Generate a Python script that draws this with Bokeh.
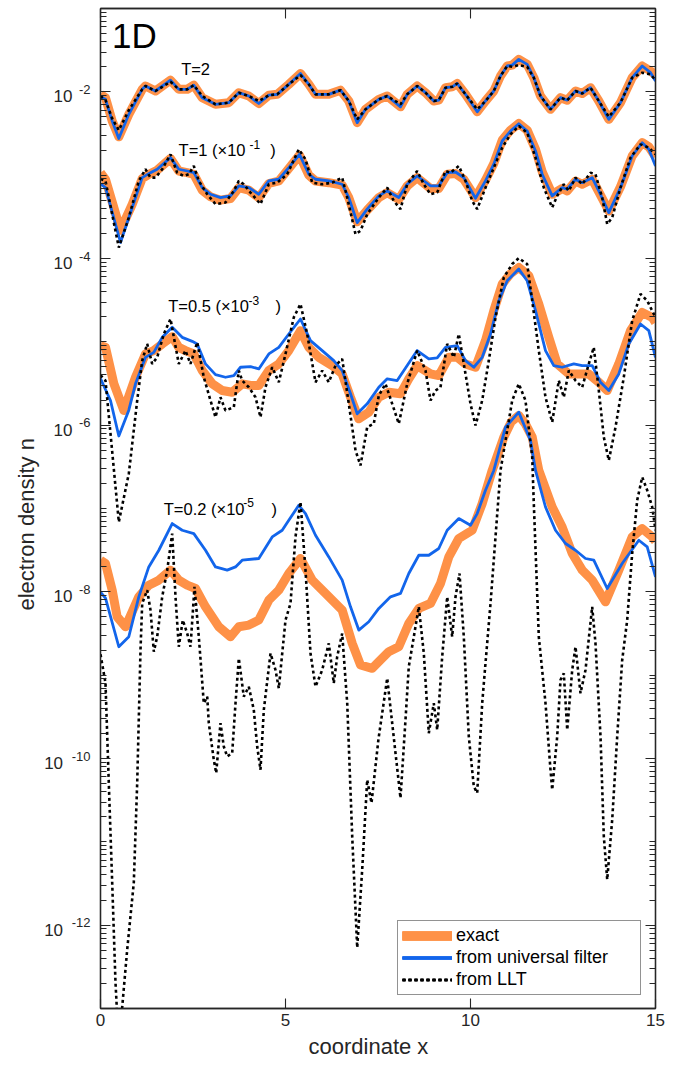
from bokeh.plotting import figure
from bokeh.models import (Range1d, FixedTicker, LinearAxis, LogAxis, LogScale,
                          CustomJSTickFormatter, Label, Title)
from bokeh.embed import file_html
from bokeh.resources import INLINE

# ---------------- data (log10 of electron density) ----------------
# T = 2
x_t2 = [0.0, 0.135, 0.316, 0.495, 0.765, 1.127, 1.216, 1.486, 1.892, 2.116, 2.343, 2.522, 2.749, 3.108, 3.468,
        3.738, 4.008, 4.278, 4.549, 4.776, 5.089, 5.405, 5.630, 5.811, 6.170, 6.486, 6.711, 6.938, 7.162, 7.522,
        7.749, 8.108, 8.289, 8.559, 8.784, 9.008, 9.143, 9.324, 9.505, 9.641, 9.865, 10.181, 10.405, 10.630,
        10.811, 10.992, 11.127, 11.305, 11.532, 11.711, 11.892, 12.162, 12.432, 12.614, 12.838, 13.019, 13.243,
        13.468, 13.738, 14.054, 14.370, 14.641, 14.865, 15.0]
exact_t2 = [-2.03, -2.07, -2.35, -2.54, -2.27, -1.97, -1.93, -1.99, -1.86, -1.97, -1.97, -1.92, -2.07, -2.15, -2.13,
            -2.01, -2.05, -2.14, -2.04, -2.03, -1.91, -1.78, -1.91, -2.03, -2.03, -1.98, -2.11, -2.37, -2.21, -2.09,
            -2.05, -2.18, -2.03, -1.93, -2.01, -2.11, -2.10, -1.95, -1.94, -1.90, -2.03, -2.24, -2.11, -1.99,
            -1.81, -1.69, -1.68, -1.61, -1.67, -1.83, -2.05, -2.21, -2.07, -2.10, -1.99, -2.02, -1.95,
            -2.11, -2.33, -2.13, -1.83, -1.69, -1.75, -1.80]
univ_t2 = [-2.06, -2.09, -2.35, -2.56, -2.27, -1.97, -1.93, -1.99, -1.86, -1.97, -1.97, -1.92, -2.07, -2.15, -2.13,
           -2.01, -2.05, -2.14, -2.04, -2.03, -1.91, -1.78, -1.91, -2.03, -2.03, -1.98, -2.11, -2.37, -2.21, -2.09,
           -2.05, -2.18, -2.03, -1.93, -2.01, -2.11, -2.10, -1.95, -1.94, -1.90, -2.03, -2.24, -2.11, -1.99,
           -1.81, -1.69, -1.68, -1.61, -1.67, -1.83, -2.05, -2.21, -2.07, -2.10, -1.99, -2.02, -1.95,
           -2.11, -2.33, -2.13, -1.83, -1.69, -1.77, -1.87]
llt_t2 = [-2.05, -2.10, -2.32, -2.46, -2.22, -1.97, -1.93, -1.99, -1.88, -1.97, -1.97, -1.92, -2.05, -2.15, -2.13,
          -2.01, -2.05, -2.11, -2.04, -2.03, -1.91, -1.80, -1.91, -2.03, -2.03, -1.98, -2.11, -2.33, -2.21, -2.09,
          -2.05, -2.15, -2.03, -1.93, -2.01, -2.11, -2.10, -1.95, -1.94, -1.90, -2.03, -2.21, -2.11, -1.99,
          -1.81, -1.69, -1.70, -1.68, -1.70, -1.83, -2.05, -2.21, -2.07, -2.10, -1.99, -2.02, -1.95,
          -2.11, -2.30, -2.13, -1.83, -1.77, -1.79, -1.86]

# T = 1 (x 1e-1)
x_t1 = [0.0, 0.135, 0.541, 0.857, 1.127, 1.351, 1.532, 1.892, 2.116, 2.343, 2.522, 2.749, 2.973, 3.243, 3.514,
        3.738, 4.008, 4.278, 4.549, 4.819, 5.089, 5.378, 5.630, 5.811, 6.170, 6.532, 6.711, 6.938, 7.208, 7.522,
        7.749, 8.062, 8.289, 8.559, 8.919, 9.143, 9.370, 9.595, 9.819, 10.135, 10.405, 10.630, 10.857, 11.081,
        11.305, 11.532, 11.757, 11.938, 12.208, 12.478, 12.614, 12.838, 13.019, 13.289, 13.468, 13.738, 14.054,
        14.370, 14.641, 14.819, 15.0]
exact_t1 = [-2.97, -3.05, -3.66, -3.35, -3.04, -2.98, -2.94, -2.80, -2.95, -2.97, -2.99, -3.18, -3.26, -3.30, -3.28,
            -3.15, -3.18, -3.27, -3.10, -3.07, -2.92, -2.76, -3.00, -3.07, -3.09, -3.12, -3.27, -3.56, -3.42, -3.27,
            -3.21, -3.29, -3.13, -3.03, -3.16, -3.16, -2.99, -2.98, -3.05, -3.27, -3.06, -2.86, -2.58, -2.46,
            -2.38, -2.46, -2.69, -2.96, -3.23, -3.16, -3.19, -3.07, -3.11, -3.05, -3.20, -3.43, -3.14,
            -2.77, -2.61, -2.66, -2.78]
univ_t1 = [-3.105, -3.150, -3.808, -3.389, -3.030, -2.970, -2.929, -2.790, -2.929, -2.950, -2.970, -3.150, -3.229,
           -3.269, -3.249, -3.129, -3.150, -3.229, -3.069, -3.049, -2.910, -2.750, -2.989, -3.049, -3.069, -3.109,
           -3.269, -3.569, -3.408, -3.249, -3.189, -3.269, -3.109, -3.010, -3.129, -3.129, -2.970, -2.962, -3.030,
           -3.277, -3.069, -2.869, -2.590, -2.471, -2.383, -2.471, -2.710, -2.989, -3.249, -3.150, -3.169, -3.049,
           -3.090, -3.030, -3.189, -3.449, -3.150, -2.770, -2.611, -2.690, -2.890]
xl_t1 = [0.0, 0.135, 0.495, 0.765, 1.035, 1.216, 1.351, 1.486, 1.668, 1.892, 2.070, 2.251, 2.386, 2.522, 2.657,
         2.884, 3.108, 3.378, 3.603, 3.738, 3.873, 4.054, 4.324, 4.549, 4.776, 5.045, 5.359, 5.541, 5.722, 5.992,
         6.262, 6.532, 6.668, 6.892, 7.027, 7.208, 7.522, 7.749, 7.927, 8.108, 8.289, 8.559, 8.739, 8.919, 9.100,
         9.324, 9.459, 9.684, 9.865, 10.046, 10.181, 10.405, 10.630, 10.857, 11.081, 11.305, 11.532, 11.757,
         11.981, 12.208, 12.343, 12.522, 12.657, 12.838, 13.019, 13.243, 13.378, 13.559, 13.695, 13.830, 14.054,
         14.324, 14.595, 14.819, 15.0]
llt_t1 = [-3.045, -3.069, -3.868, -3.509, -3.069, -2.929, -3.030, -3.030, -2.929, -2.750, -2.970, -3.010, -2.989,
          -2.890, -3.069, -3.229, -3.348, -3.329, -3.189, -3.069, -3.109, -3.209, -3.348, -3.109, -3.090, -2.989,
          -2.690, -2.810, -3.090, -3.109, -3.090, -3.030, -3.269, -3.708, -3.668, -3.468, -3.269, -3.150, -3.309,
          -3.408, -3.109, -2.950, -3.109, -3.229, -3.209, -2.950, -2.970, -2.890, -3.069, -3.309, -3.408, -3.150,
          -2.910, -2.670, -2.510, -2.411, -2.491, -2.790, -3.150, -3.389, -3.249, -3.109, -3.189, -3.030, -3.109,
          -2.970, -2.989, -3.269, -3.588, -3.509, -3.150, -2.790, -2.630, -2.670, -2.750]

# T = 0.5 (x 1e-3)
xe_t05 = [0.0, 0.135, 0.360, 0.630, 0.946, 1.216, 1.441, 1.668, 1.938, 2.116, 2.297, 2.522, 2.749, 3.019, 3.289,
          3.559, 3.830, 4.100, 4.278, 4.549, 4.819, 5.089, 5.405, 5.630, 5.900, 6.262, 6.532, 6.757, 6.981, 7.251,
          7.522, 7.792, 8.108, 8.332, 8.559, 8.919, 9.143, 9.414, 9.641, 9.865, 10.135, 10.405, 10.630, 10.857,
          11.081, 11.305, 11.576, 11.846, 12.116, 12.343, 12.657, 12.927, 13.197, 13.468, 13.695, 14.008, 14.324,
          14.641, 14.911, 15.0]
exact_t05 = [-5.046, -5.066, -5.50, -5.824, -5.425, -5.145, -5.105, -5.025, -4.938, -5.066, -5.105, -5.145, -5.345,
             -5.504, -5.584, -5.605, -5.504, -5.525, -5.525, -5.345, -5.265, -5.105, -4.866, -5.066, -5.186, -5.285,
             -5.385, -5.665, -5.924, -5.844, -5.665, -5.605, -5.624, -5.444, -5.285, -5.385, -5.405, -5.186, -5.186,
             -5.265, -5.305, -4.986, -4.626, -4.307, -4.183, -4.108, -4.207, -4.546, -4.946, -5.265, -5.385, -5.385,
             -5.385, -5.485, -5.584, -5.265, -4.866, -4.647, -4.707, -4.770]
xu_t05 = [0.0, 0.270, 0.495, 0.765, 0.946, 1.216, 1.441, 1.668, 1.938, 2.208, 2.478, 2.614, 2.838, 3.108, 3.378,
          3.603, 3.784, 4.054, 4.278, 4.549, 4.819, 5.089, 5.405, 5.676, 5.992, 6.305, 6.532, 6.757, 6.938, 7.208,
          7.522, 7.749, 8.019, 8.289, 8.559, 8.873, 9.100, 9.324, 9.641, 9.865, 10.089, 10.316, 10.541, 10.765,
          10.992, 11.305, 11.532, 11.757, 12.027, 12.251, 12.478, 12.792, 13.019, 13.289, 13.514, 13.738, 14.008,
          14.278, 14.595, 14.819, 15.0]
univ_t05 = [-5.441, -5.704, -6.13, -5.82, -5.504, -5.186, -5.126, -4.946, -4.826, -4.946, -4.994, -5.025, -5.265,
            -5.393, -5.425, -5.405, -5.305, -5.297, -5.325, -5.145, -5.066, -4.906, -4.726, -4.986, -5.105, -5.225,
            -5.345, -5.624, -5.864, -5.744, -5.545, -5.444, -5.465, -5.285, -5.105, -5.205, -5.193, -5.066, -5.046,
            -5.225, -5.305, -5.186, -4.906, -4.507, -4.267, -4.127, -4.267, -4.626, -5.105, -5.285, -5.305, -5.265,
            -5.285, -5.285, -5.485, -5.584, -5.385, -5.025, -4.786, -4.866, -5.186]
xl_t05 = [0.0, 0.135, 0.270, 0.495, 0.765, 0.992, 1.127, 1.262, 1.397, 1.532, 1.711, 1.892, 2.116, 2.297, 2.432,
          2.614, 2.792, 2.973, 3.108, 3.243, 3.378, 3.603, 3.738, 3.830, 4.008, 4.189, 4.324, 4.459, 4.641, 4.819,
          5.0, 5.224, 5.405, 5.586, 5.811, 5.992, 6.170, 6.351, 6.532, 6.711, 6.892, 7.027, 7.208, 7.386, 7.522,
          7.703, 7.884, 8.062, 8.289, 8.559, 8.784, 8.919, 9.054, 9.189, 9.370, 9.549, 9.684, 9.865, 10.0, 10.135,
          10.316, 10.495, 10.676, 10.900, 11.127, 11.305, 11.532, 11.668, 11.846, 12.027, 12.208, 12.386, 12.522,
          12.657, 12.838, 13.019, 13.197, 13.332, 13.468, 13.603, 13.738, 13.919, 14.143, 14.370, 14.595, 14.776,
          15.0]
llt_t05 = [-5.40, -5.465, -6.10, -7.162, -6.582, -5.704, -5.225, -5.025, -5.265, -5.186, -4.906, -4.726, -5.265,
           -5.105, -5.265, -5.006, -5.425, -5.704, -5.904, -5.665, -5.824, -5.784, -5.345, -5.465, -5.545, -5.665,
           -5.904, -5.545, -5.305, -5.485, -5.145, -4.707, -4.546, -4.906, -5.485, -5.345, -5.485, -5.285, -5.205,
           -5.744, -6.303, -6.483, -6.024, -5.983, -5.644, -5.504, -5.744, -5.983, -5.504, -5.105, -5.345, -5.704,
           -5.584, -5.545, -5.025, -5.186, -4.906, -5.385, -5.744, -6.004, -5.704, -5.225, -4.707, -4.227, -4.067,
           -3.995, -4.067, -4.507, -5.105, -5.665, -5.964, -5.465, -5.665, -5.345, -5.465, -5.545, -5.265, -5.066,
           -5.584, -6.144, -6.423, -6.024, -5.425, -4.746, -4.426, -4.507, -4.707]

# T = 0.2 (x 1e-5)
xe_t02 = [0.0, 0.135, 0.316, 0.450, 0.676, 1.035, 1.305, 1.576, 1.892, 2.116, 2.343, 2.568, 2.838, 3.197, 3.514,
          3.738, 4.008, 4.278, 4.549, 4.819, 5.089, 5.405, 5.722, 6.081, 6.532, 6.803, 7.027, 7.343, 7.522, 7.792,
          8.062, 8.332, 8.603, 8.919, 9.189, 9.414, 9.684, 10.046, 10.316, 10.586, 10.900, 11.100, 11.305, 11.490,
          11.668, 11.846, 12.208, 12.478, 12.749, 13.019, 13.289, 13.649, 14.008, 14.370, 14.641, 14.911, 15.0]
exact_t02 = [-7.620, -7.660, -7.980, -8.299, -8.419, -8.060, -7.920, -7.860, -7.740, -7.860, -7.920, -7.960, -8.180,
             -8.419, -8.539, -8.419, -8.399, -8.339, -8.100, -7.980, -7.780, -7.600, -7.860, -8.019, -8.219, -8.618,
             -8.878, -8.918, -8.838, -8.718, -8.659, -8.379, -8.199, -8.139, -7.900, -7.581, -7.360, -7.261, -6.941,
             -6.543, -6.144, -5.960, -5.884, -5.990, -6.144, -6.543, -6.982, -7.222, -7.540, -7.740, -7.860, -8.120,
             -7.740, -7.341, -7.241, -7.341, -7.393]
xu_t02 = [0.0, 0.135, 0.495, 0.765, 1.035, 1.305, 1.576, 1.938, 2.208, 2.522, 2.838, 3.108, 3.424, 3.649, 3.830,
          4.278, 4.641, 4.911, 5.089, 5.359, 5.541, 5.811, 6.170, 6.532, 6.757, 6.981, 7.251, 7.522, 7.838, 8.108,
          8.332, 8.603, 8.873, 9.143, 9.370, 9.684, 10.0, 10.181, 10.405, 10.630, 10.946, 11.305, 11.622, 11.757,
          12.027, 12.297, 12.568, 12.838, 13.108, 13.332, 13.695, 14.100, 14.549, 14.776, 15.0]
univ_t02 = [-8.003, -8.075, -8.659, -8.539, -8.060, -7.701, -7.501, -7.181, -7.261, -7.301, -7.501, -7.701, -7.740,
            -7.701, -7.620, -7.600, -7.341, -7.261, -7.141, -6.962, -7.061, -7.321, -7.581, -7.860, -8.180, -8.459,
            -8.359, -8.199, -8.060, -8.019, -7.780, -7.561, -7.561, -7.480, -7.261, -7.121, -7.201, -7.061, -6.782,
            -6.543, -6.024, -5.844, -6.183, -6.543, -6.982, -7.261, -7.420, -7.501, -7.600, -7.620, -7.960, -7.660,
            -7.381, -7.461, -7.820]
xl_t02 = [0.0, 0.135, 0.224, 0.316, 0.405, 0.50, 0.586, 0.722, 0.900, 0.992, 1.081, 1.127, 1.262, 1.351, 1.441,
          1.532, 1.668, 1.803, 1.938, 2.027, 2.116, 2.224, 2.343, 2.432, 2.541, 2.657, 2.792, 2.884, 2.927, 3.062,
          3.127, 3.243, 3.332, 3.424, 3.559, 3.649, 3.738, 3.873, 4.008, 4.143, 4.235, 4.324, 4.414, 4.595, 4.730,
          4.819, 5.0, 5.135, 5.270, 5.405, 5.541, 5.676, 5.811, 5.992, 6.170, 6.305, 6.397, 6.532, 6.668, 6.803,
          6.938, 7.073, 7.208, 7.324, 7.510, 7.749, 7.973, 8.108, 8.243, 8.332, 8.468, 8.603, 8.738, 8.873, 9.008,
          9.100, 9.235, 9.370, 9.505, 9.595, 9.703, 9.819, 9.954, 10.089, 10.181, 10.316, 10.405, 10.541, 10.676,
          10.811, 11.127, 11.305, 11.486, 11.668, 11.711, 11.846, 12.027, 12.162, 12.208, 12.343, 12.432, 12.522,
          12.614, 12.749, 12.838, 12.973, 13.108, 13.289, 13.378, 13.514, 13.603, 13.695, 13.830, 13.965, 14.100,
          14.235, 14.370, 14.505, 14.641, 14.776, 14.911, 15.0]
llt_t02 = [-8.75, -9.094, -10.291, -11.489, -12.686, -13.5, -12.986, -12.291, -11.489, -10.291, -8.698, -8.139,
           -7.980, -8.219, -8.718, -8.539, -8.060, -7.740, -7.301, -8.060, -8.659, -8.339, -8.499, -8.659, -7.940,
           -8.539, -9.337, -9.257, -9.576, -10.016, -10.175, -9.576, -9.856, -9.976, -9.935, -9.337, -8.798, -9.257,
           -9.138, -9.417, -9.856, -10.135, -9.417, -8.738, -8.938, -9.157, -8.339, -8.139, -7.341, -6.922, -7.740,
           -8.738, -9.138, -8.938, -8.618, -9.097, -8.778, -8.499, -9.337, -10.934, -12.27, -11.333, -10.255,
           -10.534, -9.776, -9.037, -9.935, -10.474, -9.537, -8.898, -8.539, -8.179, -8.738, -9.696, -9.337, -9.656,
           -8.778, -8.060, -8.539, -8.060, -7.780, -8.539, -9.736, -10.335, -10.414, -9.337, -8.858, -8.139, -7.341,
           -6.543, -5.704, -5.504, -5.704, -6.383, -6.941, -8.539, -9.337, -10.135, -10.375, -9.736, -9.058, -8.978,
           -9.656, -8.938, -8.659, -9.217, -8.938, -8.179, -8.618, -9.736, -10.934, -11.453, -10.734, -9.736,
           -8.818, -8.339, -7.540, -6.902, -6.623, -6.782, -6.982, -7.261]

# curve annotations: main text, superscript exponent
curve_text = ["T=2", "T=1 (×10", "T=0.5 (×10", "T=0.2 (×10"]
curve_sup = ["", "-1", "-3", "-5"]
# (x of text, log10 y of text centre, x of superscript, x of closing paren)
curve_pos = [(2.18, -1.72, None, None), (2.11, -2.70, 4.03, 4.59),
             (1.83, -4.57, 4.00, 4.73), (1.71, -7.00, 3.86, 4.62)]

x_ticks = [0, 5, 10, 15]
y_tick_exp = [-12, -10, -8, -6, -4, -2]

# ---------------- styling ----------------
FONT = "Liberation Sans"
AXC = "#262626"
ORANGE = "#FE9147"
BLUE = "#1265EB"

p = figure(width=670, height=1066, y_axis_type="log",
           x_range=Range1d(0, 15), y_range=Range1d(1e-13, 1e-1),
           output_backend="svg", toolbar_location=None,
           min_border_left=100, min_border_right=15, min_border_top=8, min_border_bottom=58)
p.grid.visible = False
p.outline_line_color = AXC
p.outline_line_width = 1.3

def pw(v):
    return [10.0 ** a for a in v]

series = [
    (x_t2, exact_t2, x_t2, univ_t2, x_t2, llt_t2),
    (x_t1, exact_t1, x_t1, univ_t1, xl_t1, llt_t1),
    (xe_t05, exact_t05, xu_t05, univ_t05, xl_t05, llt_t05),
    (xe_t02, exact_t02, xu_t02, univ_t02, xl_t02, llt_t02),
]
for xe, ye, xu, yu, xl, yl in series:
    p.line(xe, pw(ye), line_color=ORANGE, line_width=9, line_join="round", legend_label="exact")
for xe, ye, xu, yu, xl, yl in series:
    p.line(xu, pw(yu), line_color=BLUE, line_width=2.8, line_join="round",
           legend_label="from universal filter")
for xe, ye, xu, yu, xl, yl in series:
    p.line(xl, pw(yl), line_color="black", line_width=2.6, line_dash="3 3",
           legend_label="from LLT")

def txt(x, y, t, size, **kw):
    p.add_layout(Label(x=x, y=y, text=t, text_font=FONT, text_font_size=size,
                       text_baseline="middle", **kw))

for t, s, (lx, ly, sx, px_) in zip(curve_text, curve_sup, curve_pos):
    txt(lx, 10.0 ** ly, t, "16.5px", text_color="black")
    if s:
        txt(sx, 10.0 ** (ly + 0.07), s, "12px", text_color="black")
        txt(px_, 10.0 ** ly, ")", "16.5px", text_color="black")
txt(0.31, 10.0 ** -1.32, "1D", "35px", text_color="black")

# ---------------- axes ----------------
xt = FixedTicker(ticks=x_ticks, minor_ticks=[])
yt = FixedTicker(ticks=[10.0 ** e for e in y_tick_exp],
                 minor_ticks=[k * 10.0 ** e for e in range(-13, -1) for k in range(1, 10)
                              if not (k == 1 and e in y_tick_exp)])
yt_major = FixedTicker(ticks=[10.0 ** e for e in y_tick_exp], minor_ticks=[])
blank = CustomJSTickFormatter(code="return '';")

def style(ax):
    ax.axis_line_color = AXC
    ax.axis_line_width = 1.3
    ax.major_tick_line_color = AXC
    ax.major_tick_line_width = 1.1
    ax.minor_tick_line_color = AXC
    ax.minor_tick_line_width = 1.0
    ax.major_tick_in = 10
    ax.major_tick_out = 0
    ax.minor_tick_in = 6
    ax.minor_tick_out = 0
    ax.major_label_text_color = AXC
    ax.major_label_text_font = FONT
    ax.major_label_text_font_size = "17px"

def label_only(ax, size, standoff):
    ax.axis_line_color = None
    ax.major_tick_line_color = None
    ax.minor_tick_line_color = None
    ax.major_tick_in = 0
    ax.major_tick_out = 0
    ax.minor_tick_in = 0
    ax.minor_tick_out = 0
    ax.major_label_text_color = AXC
    ax.major_label_text_font = FONT
    ax.major_label_text_font_size = size
    ax.major_label_standoff = standoff

bx = p.below[0]
bx.ticker = xt
style(bx)
bx.major_label_standoff = 5

ly = p.left[0]
ly.ticker = yt
ly.formatter = blank
style(ly)
ly.major_label_text_font_size = "0px"
ly.major_label_standoff = 0

# shifted copies of the y scale carry the "10" and its raised exponent
p.extra_y_ranges = {"sup": Range1d(1e-13 * 10 ** -0.03, 1e-1 * 10 ** -0.03),
                    "base": Range1d(1e-13 * 10 ** 0.06, 1e-1 * 10 ** 0.06)}
p.extra_y_scales = {"sup": LogScale(), "base": LogScale()}

exp_axis = LogAxis(y_range_name="sup", ticker=yt_major,
                   formatter=CustomJSTickFormatter(code="return String(Math.round(Math.log10(tick)));"))
label_only(exp_axis, "13px", 10)
p.add_layout(exp_axis, "left")

base_axis = LogAxis(y_range_name="base", ticker=yt_major,
                    formatter=CustomJSTickFormatter(
                        code="return Math.round(Math.log10(tick)) <= -10 ? '10\u2007' : '10';"))
label_only(base_axis, "17px", -4)
p.add_layout(base_axis, "left")

p.add_layout(Title(text="electron density n", align="left", offset=398, standoff=6,
                   text_font=FONT, text_font_size="22px", text_font_style="normal",
                   text_color=AXC), "left")
p.add_layout(Title(text="coordinate x", align="left", offset=208, standoff=7,
                   text_font=FONT, text_font_size="22px", text_font_style="normal",
                   text_color=AXC), "below")

top = LinearAxis(ticker=xt, formatter=blank)
style(top)
top.major_label_text_font_size = "0px"
top.major_label_standoff = 0
p.add_layout(top, "above")

right = LogAxis(ticker=yt, formatter=blank)
style(right)
right.major_label_text_font_size = "0px"
right.major_label_standoff = 0
p.add_layout(right, "right")

lg = p.legend[0]
lg.location = (297, 13)
lg.glyph_width = 50
lg.glyph_height = 21
lg.label_height = 21
lg.label_width = 180
lg.label_standoff = 4
lg.spacing = 1
lg.padding = 4
lg.margin = 0
lg.label_text_font = FONT
lg.label_text_font_size = "18px"
lg.label_text_color = "black"
lg.border_line_color = AXC
lg.border_line_width = 1
lg.background_fill_alpha = 1.0

open("out.html", "w", encoding="utf-8").write(file_html(p, INLINE))
